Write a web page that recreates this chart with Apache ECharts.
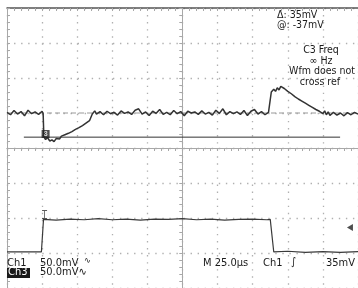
<!DOCTYPE html>
<html>
<head>
    <meta charset="utf-8">
    <title>scope</title>
    <style>
        html, body { margin: 0; padding: 0; background: #fff; }
        #chart { width: 358px; height: 288px; }
    </style>
</head>
<body>
<div id="chart"></div>
<script src="https://cdn.jsdelivr.net/npm/echarts@6/dist/echarts.min.js"></script>
<script>
    // screen units: x = divisions from centre (25us/div), y = divisions from centre
    var ch3T = [-5.0,-4.9,-4.8,-4.7,-4.6,-4.5,-4.4,-4.3,-4.2,-4.1,-4.0,-3.97,
        -3.95,-3.9,-3.85,-3.78,-3.72,-3.66,-3.6,-3.55,-3.5,-3.45,-3.4,-3.35,-3.3,-3.25,-3.2,-3.15,-3.1,-3.05,
        -3.0,-2.95,-2.9,-2.85,-2.8,-2.75,-2.7,-2.65,-2.6,-2.57,-2.5,
        -2.45,-2.35,-2.25,-2.15,-2.05,-1.95,-1.85,-1.75,-1.65,-1.55,
        -1.45,-1.35,-1.25,-1.15,-1.05,-0.95,-0.85,-0.75,-0.65,-0.55,
        -0.45,-0.35,-0.25,-0.15,-0.05,0.05,0.15,0.25,0.35,0.45,
        0.55,0.65,0.75,0.85,0.95,1.05,1.15,1.25,1.35,1.45,
        1.55,1.65,1.75,1.85,1.95,2.05,2.15,2.25,2.35,2.45,
        2.5,2.53,2.6,2.65,2.7,2.75,2.8,2.85,2.9,2.95,3.0,3.05,3.1,3.15,3.2,3.25,3.3,3.35,3.4,3.45,
        3.5,3.55,3.6,3.65,3.7,3.75,3.8,3.85,3.9,3.95,4.0,4.05,4.1,4.15,4.2,4.3,4.4,4.5,4.6,4.7,4.8,4.9,5.0];
    var ch3V = [1.02,0.95,1.07,0.97,1.04,0.92,1.08,0.98,1.03,0.96,1.05,0.98,
        0.32,0.24,0.30,0.20,0.23,0.18,0.27,0.30,0.26,0.34,0.31,0.38,0.36,0.42,0.40,0.47,0.45,0.53,
        0.50,0.58,0.56,0.64,0.62,0.71,0.69,0.78,0.80,0.97,1.06,
        0.97,1.04,0.95,1.05,0.98,1.02,0.94,1.06,0.99,1.03,
        0.96,1.08,1.12,0.97,1.03,0.93,1.05,0.99,1.10,0.96,
        1.02,0.95,1.07,0.98,1.04,0.92,1.05,1.00,1.03,0.96,
        1.06,0.97,1.02,0.94,1.08,0.99,1.12,0.95,1.04,0.98,
        1.03,0.96,1.07,0.93,1.05,1.10,0.97,1.04,0.95,1.02,
        0.97,1.60,1.68,1.62,1.72,1.66,1.76,1.80,1.70,1.74,1.62,1.66,1.55,1.58,1.47,1.50,1.40,1.44,1.34,1.38,
        1.28,1.31,1.22,1.26,1.16,1.20,1.10,1.15,1.05,1.10,0.98,1.06,0.95,1.03,0.93,1.02,0.94,1.00,0.92,1.01,0.95,1.02,0.97];

    var ch1T = [-5,-4.5,-4.02,-3.96,-3.6,-3.2,-2.8,-2.4,-2.0,-1.6,-1.2,-0.8,-0.4,0,0.4,0.8,1.2,1.6,2.0,2.4,2.5,2.6,3.0,3.5,4.0,4.5,5];
    var ch1V = [-2.97,-2.97,-2.97,-2.04,-2.06,-2.03,-2.05,-2.02,-2.05,-2.03,-2.06,-2.03,-2.04,-2.02,-2.05,-2.03,-2.06,-2.04,-2.03,-2.05,-2.04,-2.97,-2.95,-2.98,-2.96,-2.98,-2.96];

    var refLevel = 1.0;       // dashed Ch3 reference
    var cursorLevel = 0.31;   // horizontal cursor (@: -37mV)
    var cursorSpan = [-4.52, 4.49];

    function pairs(xs, ys) {
        var out = [];
        for (var i = 0; i < xs.length; i++) out.push([xs[i], ys[i]]);
        return out;
    }

    var gridCol = '#a8a8a8';

    function centreAxis(inside, show) {
        return {
            type: 'value', min: -5, max: 5, interval: 1,
            axisLine: { show: true, onZero: true, lineStyle: { color: gridCol, width: 1 } },
            axisTick: { show: true, inside: inside, length: 3, lineStyle: { color: gridCol } },
            minorTick: { show: true, splitNumber: 5, length: 3, lineStyle: { color: gridCol } },
            axisLabel: { show: false },
            splitLine: { show: show, lineStyle: { color: '#b0b0b0', width: 1.3, type: [1.4, 5.66] } }
        };
    }

    var font = '"DejaVu Sans Condensed", "DejaVu Sans", sans-serif';
    function txt(x, y, s, size, extra) {
        var st = { text: s, fill: '#1a1a1a', font: (size || 11) + 'px ' + font, verticalAlign: 'top' };
        for (var k in extra) st[k] = extra[k];
        return { type: 'text', x: x, y: y, style: st, z: 100 };
    }

    var myChart = echarts.init(document.getElementById('chart'));
    var xa = centreAxis(false, true);
    var xb = centreAxis(true, false);
    var xTop = centreAxis(true, false);
    xTop.position = 'top';
    xTop.axisLine = { show: true, onZero: false, lineStyle: { color: '#555', width: 1.5 } };
    var ya = centreAxis(false, true); ya.min = -4; ya.max = 4;
    var yb = centreAxis(true, false); yb.min = -4; yb.max = 4;
    var yLeft = centreAxis(true, false); yLeft.min = -4; yLeft.max = 4;
    yLeft.position = 'left';
    yLeft.axisLine = { show: true, onZero: false, lineStyle: { color: gridCol, width: 1 } };

    var option = {
        animation: false,
        backgroundColor: '#fff',
        grid: { left: 7, top: 8, width: 354, height: 282 },
        xAxis: [xa, xb, xTop],
        yAxis: [ya, yb, yLeft],
        series: [
            {
                type: 'line', silent: true, symbol: 'none',
                data: [[-5, refLevel], [5, refLevel]],
                lineStyle: { color: '#999', width: 1, type: [5, 3] }, z: 2
            },
            {
                type: 'line', silent: true, symbol: 'none',
                data: [[cursorSpan[0], cursorLevel], [cursorSpan[1], cursorLevel]],
                lineStyle: { color: '#333', width: 1 }, z: 3
            },
            {
                type: 'line', silent: true, symbol: 'none',
                data: pairs(ch3T, ch3V),
                lineStyle: { color: '#333', width: 1.5 }, z: 4
            },
            {
                type: 'line', silent: true, symbol: 'none',
                data: pairs(ch1T, ch1V),
                lineStyle: { color: '#3a3a3a', width: 1.2 }, z: 4
            },
            {
                type: 'scatter', silent: true, z: 5,
                data: [
                    { value: [-3.9, 0.40], symbol: 'rect', symbolSize: [8, 8], itemStyle: { color: '#222' },
                      label: { show: true, position: 'inside', formatter: '3', color: '#fff', fontSize: 7, fontWeight: 'bold' } },
                    { value: [-3.93, -1.9], symbol: 'path://M0,0H6V1H3.5V9H6V10H0V9H2.5V1H0Z', symbolSize: [5, 9], itemStyle: { color: '#333' } },
                    { value: [4.77, -2.27], symbol: 'triangle', symbolRotate: 90, symbolSize: [7, 6], itemStyle: { color: '#222' } }
                ]
            }
        ],
        graphic: [
            txt(277, 10, 'Δ: 35mV', 10.5),
            txt(277, 20, '@: -37mV', 10.5),
            txt(321, 45, 'C3 Freq', 10.5, { align: 'center' }),
            txt(321, 56, '∞ Hz', 10.5, { align: 'center' }),
            txt(322, 66, 'Wfm does not', 10.5, { align: 'center' }),
            txt(320, 77, 'cross ref', 10.5, { align: 'center' }),
            txt(7, 258, 'Ch1', 11),
            txt(40, 258, '50.0mV', 11),
            txt(84, 256, '∿', 9),
            { type: 'rect', x: 7, y: 268, shape: { width: 23, height: 10 }, style: { fill: '#1a1a1a' }, z: 99 },
            txt(8, 267, 'Ch3', 11, { fill: '#fff' }),
            txt(40, 267, '50.0mV∿', 11),
            txt(203, 258, 'M 25.0µs', 11),
            txt(263, 258, 'Ch1', 11),
            txt(291, 257, '∫', 11),
            txt(326, 258, '35mV', 11)
        ]
    };
    myChart.setOption(option);
</script>
</body>
</html>
